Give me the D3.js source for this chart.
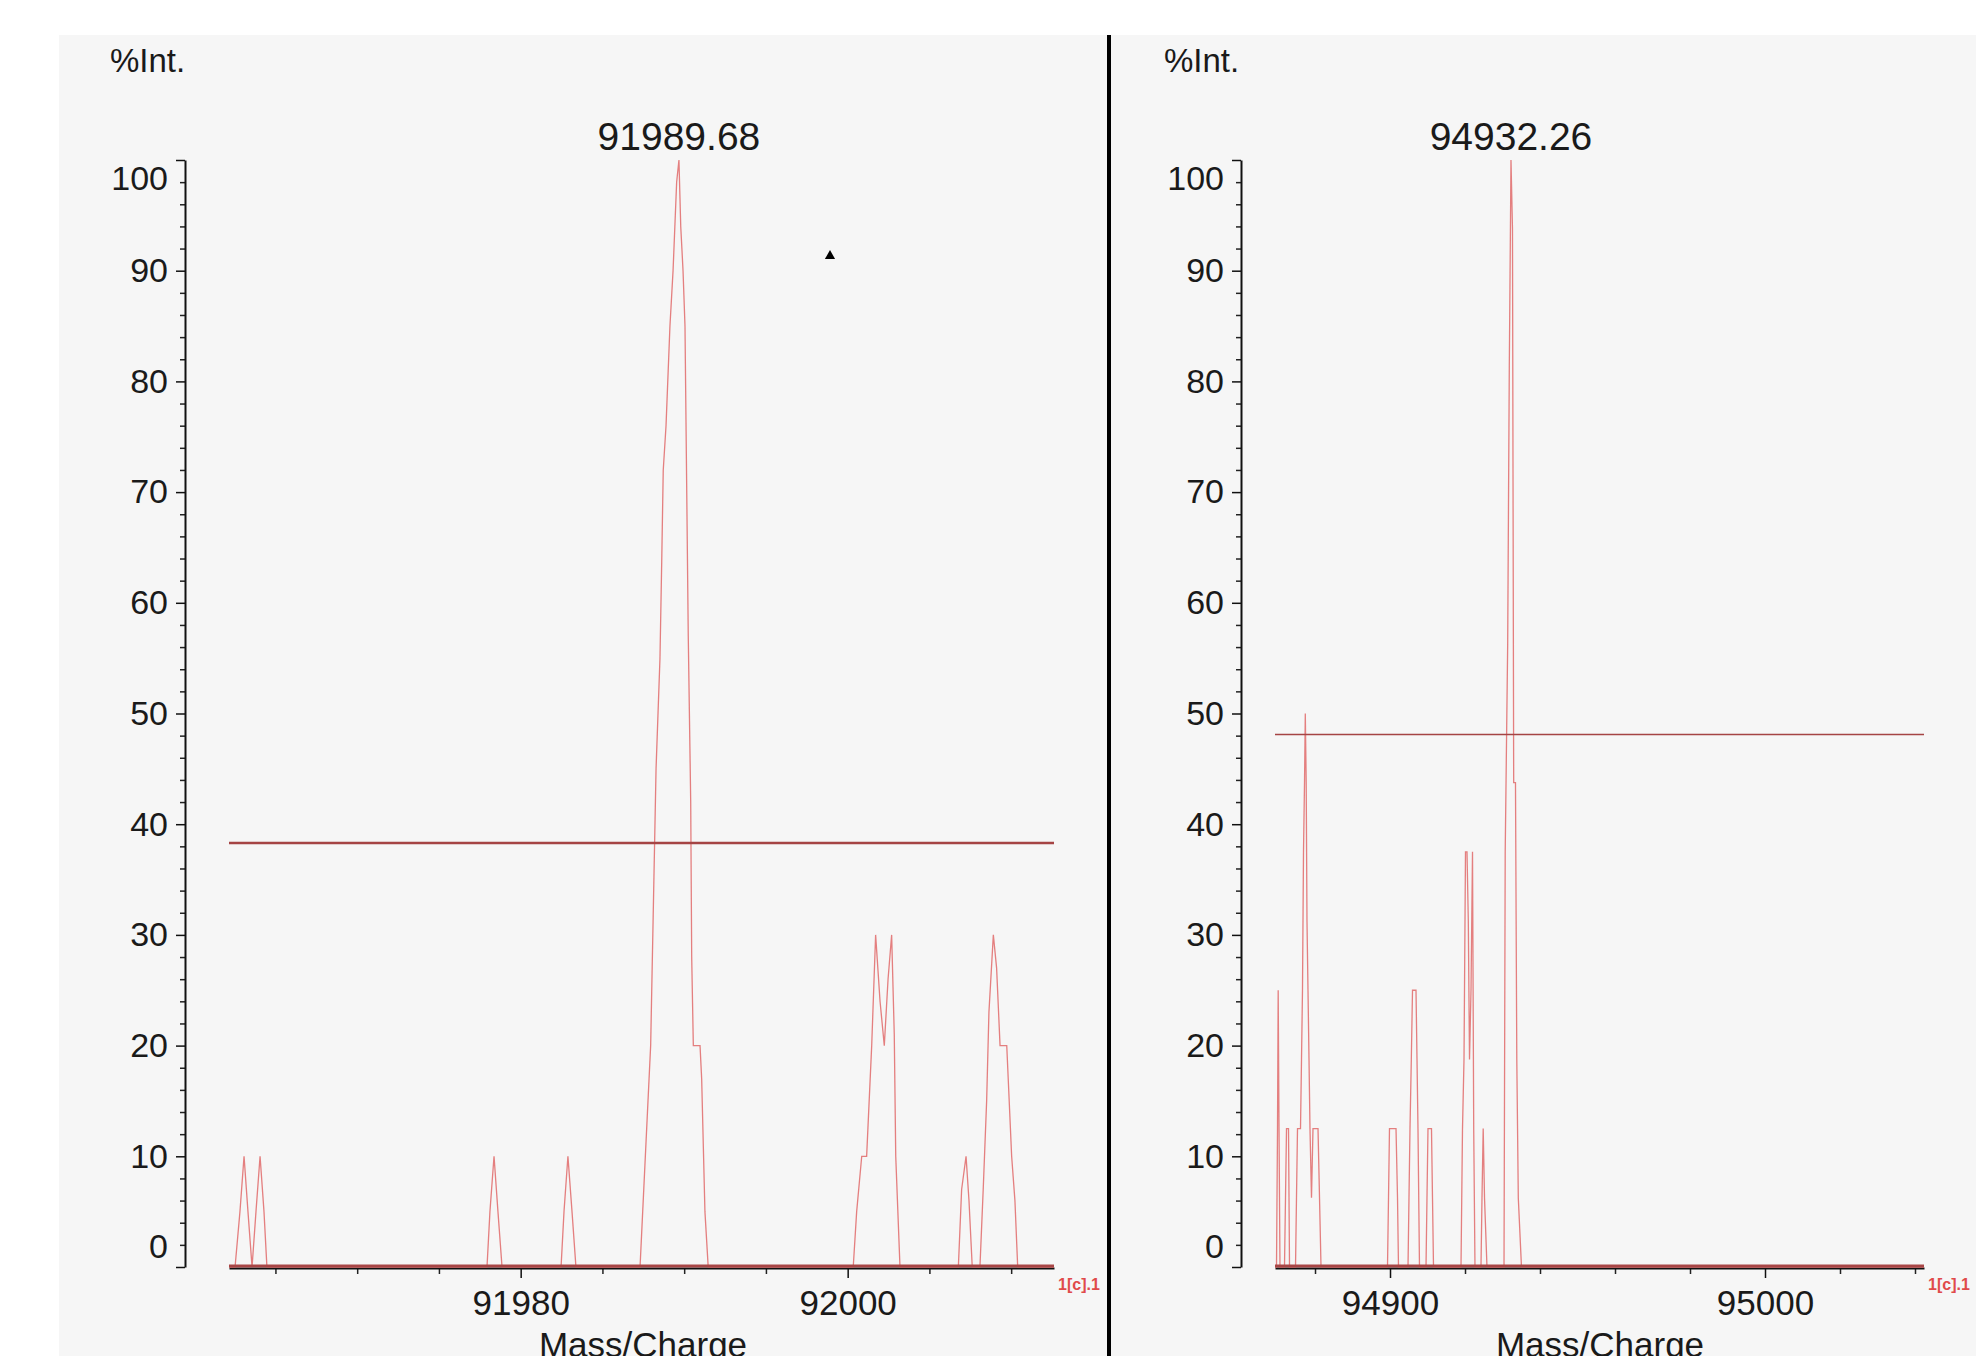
<!DOCTYPE html>
<html>
<head>
<meta charset="utf-8">
<script src="https://cdn.jsdelivr.net/npm/d3@7"></script>
<style>
  body { margin: 0; background: #fff; }
  text { font-family: "Liberation Sans", Arial, sans-serif; }
</style>
</head>
<body>
<div id="chart"></div>
<script>
// ---- data ----
var leftMass = [91962.16, 91962.53, 91962.83, 91963.08, 91963.32, 91963.57, 91963.81, 91964.06, 91964.30, 91964.48,
  91977.94, 91978.12, 91978.37, 91978.61, 91978.86,
  91982.47, 91982.65, 91982.89, 91983.14, 91983.38,
  91987.30, 91987.95, 91988.28, 91988.52, 91988.63, 91988.72, 91988.89, 91989.13, 91989.32, 91989.54, 91989.68,
  91989.79, 91989.93, 91990.05, 91990.25, 91990.40, 91990.46, 91990.56, 91990.97, 91991.07, 91991.27, 91991.47,
  92000.34, 92000.55, 92000.86, 92001.16, 92001.47, 92001.71, 92001.98, 92002.24, 92002.47, 92002.69, 92002.85, 92002.94, 92003.20,
  92006.77, 92006.97, 92007.24, 92007.42, 92007.62, 92008.09, 92008.29, 92008.50, 92008.64, 92008.91, 92009.11,
  92009.32, 92009.73, 92009.82, 92010.03, 92010.23, 92010.40, 92012.62];
var leftInt = [0, 0, 5, 10, 5, 0, 5, 10, 5, 0,
  0, 5, 10, 5, 0,
  0, 5, 10, 5, 0,
  0, 20, 45, 55, 64, 72, 76, 85, 90, 98, 100,
  94, 90, 85, 57, 42, 28, 20, 20, 17, 5, 0,
  0, 5, 10, 10, 20, 30, 24, 20, 26, 30, 21, 10, 0,
  0, 7, 10, 6, 0, 0, 7, 15, 23, 30, 27,
  20, 20, 17, 10, 6, 0, 0];

var rightMass = [94869.33, 94869.73, 94870.00, 94870.18, 94870.40, 94870.66,
  94871.86, 94872.13, 94872.40, 94872.93, 94873.20,
  94874.80, 94875.06, 94875.33, 94876.13, 94876.40, 94876.66, 94876.93, 94877.20, 94877.41, 94877.65,
  94877.86, 94878.13, 94878.40, 94878.66, 94879.06, 94879.46, 94880.80, 94881.20, 94881.60,
  94899.33, 94899.60, 94899.86, 94901.60, 94902.00, 94902.26,
  94904.80, 94905.06, 94905.33, 94905.68, 94906.00, 94906.93, 94907.20, 94907.46, 94907.86,
  94909.60, 94909.86, 94910.13, 94911.06, 94911.33, 94911.60,
  94918.93, 94919.33, 94919.73, 94920.13, 94920.53, 94920.88, 94921.20, 94921.60, 94922.00, 94922.32, 94922.66,
  94924.26, 94924.53, 94924.85, 94925.20, 94925.86,
  94930.40, 94930.72, 94931.38, 94931.81, 94932.26, 94932.66, 94932.98, 94933.46, 94933.81, 94934.21, 94935.06,
  95042.40];
var rightInt = [0, 0, 12.5, 25, 12.5, 0,
  0, 6.25, 12.5, 12.5, 0,
  0, 6.25, 12.5, 12.5, 18.75, 25, 37.5, 43.75, 50, 43.75,
  31.25, 25, 18.75, 12.5, 6.25, 12.5, 12.5, 6.25, 0,
  0, 6.25, 12.5, 12.5, 6.25, 0,
  0, 6.25, 12.5, 18.75, 25, 25, 18.75, 12.5, 0,
  0, 6.25, 12.5, 12.5, 6.25, 0,
  0, 12.5, 18.75, 37.5, 37.5, 31.25, 18.75, 25, 37.5, 12.5, 0,
  0, 6.25, 12.5, 6.25, 0,
  0, 37.5, 56.25, 81.25, 100, 93.75, 43.75, 43.75, 18.75, 6.25, 0,
  0];

var leftDomain = [91962.16, 92012.62];
var rightDomain = [94869.33, 95042.40];
var leftXTicks = [91980, 92000];
var rightXTicks = [94900, 95000];
var yTicks = [0, 10, 20, 30, 40, 50, 60, 70, 80, 90, 100];
var peakMass = [91989.68, 94932.26];
var peakLabels = ["91989.68", "94932.26"];
var cursorLevels = [38.3, 48.1];

// ---- page ----
var W = 1976, H = 1356;
var svg = d3.select("#chart")
  .append("svg")
    .attr("width", W)
    .attr("height", H);

// grey panel backgrounds
svg.append("rect").attr("x", 59).attr("y", 35).attr("width", 1050).attr("height", H - 35).attr("fill", "#f6f6f6");
svg.append("rect").attr("x", 1109).attr("y", 35).attr("width", W - 1109).attr("height", H - 35).attr("fill", "#f6f6f6");

var y = d3.scaleLinear().domain([0, 100]).range([1267, 160]);

var panels = [
  {mass: leftMass, inten: leftInt, domain: leftDomain, ticks: leftXTicks, minor: 5,
   axisX: 185, x0: 229, x1: 1054, intX: 110, peak: peakMass[0], label: peakLabels[0],
   cursor: cursorLevels[0], cursorW: 2.6, center: 643},
  {mass: rightMass, inten: rightInt, domain: rightDomain, ticks: rightXTicks, minor: 20,
   axisX: 1241, x0: 1275, x1: 1924, intX: 1164, peak: peakMass[1], label: peakLabels[1],
   cursor: cursorLevels[1], cursorW: 1.6, center: 1600}
];

panels.forEach(function(p) {
  var x = d3.scaleLinear().domain(p.domain).range([p.x0, p.x1]);

  // minor y ticks
  var yMinor = d3.range(0, 101, 2).filter(function(v) { return v % 10 !== 0; });
  svg.append("g")
    .attr("transform", "translate(" + p.axisX + ",0)")
    .call(d3.axisLeft(y).tickValues(yMinor).tickSize(5).tickFormat(""))
    .call(function(g) { g.select(".domain").remove(); })
    .selectAll("line").attr("stroke", "#222").attr("stroke-width", 1.5);

  // major y axis
  var ya = svg.append("g")
    .attr("transform", "translate(" + p.axisX + ",0)")
    .call(d3.axisLeft(y).tickValues(yTicks).tickSize(9).tickSizeOuter(0).tickPadding(8));
  ya.select(".domain").attr("stroke", "#111").attr("stroke-width", 2);
  ya.selectAll("line").attr("stroke", "#111").attr("stroke-width", 1.5);
  ya.selectAll("text")
    .style("font-size", "34px")
    .attr("fill", "#1a1a1a")
    .attr("transform", function(d) { return d === 0 ? "translate(0,-20)" : d === 100 ? "translate(0,19)" : null; });

  // minor x ticks
  var xMinor = d3.range(Math.ceil(p.domain[0] / p.minor) * p.minor, p.domain[1], p.minor)
    .filter(function(v) { return p.ticks.indexOf(v) < 0; });
  svg.append("g")
    .attr("transform", "translate(0,1268)")
    .call(d3.axisBottom(x).tickValues(xMinor).tickSize(6).tickFormat(""))
    .call(function(g) { g.select(".domain").remove(); })
    .selectAll("line").attr("stroke", "#222").attr("stroke-width", 1.5);

  // major x axis
  var xa = svg.append("g")
    .attr("transform", "translate(0,1268)")
    .call(d3.axisBottom(x).tickValues(p.ticks).tickSize(10).tickSizeOuter(0).tickPadding(12).tickFormat(d3.format("d")));
  xa.select(".domain").attr("stroke", "#111").attr("stroke-width", 2);
  xa.selectAll("line").attr("stroke", "#111").attr("stroke-width", 1.5);
  xa.selectAll("text").style("font-size", "35px").attr("fill", "#1a1a1a");

  // spectrum trace
  var pts = p.mass.map(function(m, i) { return [m, p.inten[i]]; });
  svg.append("path")
    .datum(pts)
    .attr("fill", "none")
    .attr("stroke", "#e06a6a")
    .attr("stroke-width", 1.3)
    .attr("stroke-opacity", 0.85)
    .attr("d", d3.line()
      .x(function(d) { return x(d[0]); })
      .y(function(d) { return y(d[1]); }));

  // zero level line
  svg.append("line")
    .attr("x1", p.x0).attr("x2", p.x1)
    .attr("y1", y(0) - 1).attr("y2", y(0) - 1)
    .attr("stroke", "#a84646")
    .attr("stroke-width", 3);

  // horizontal cursor
  svg.append("line")
    .attr("x1", p.x0).attr("x2", p.x1)
    .attr("y1", y(p.cursor)).attr("y2", y(p.cursor))
    .attr("stroke", "#a54444")
    .attr("stroke-width", p.cursorW);

  // peak label
  svg.append("text")
    .attr("x", x(p.peak))
    .attr("y", 150)
    .style("text-anchor", "middle")
    .style("font-size", "39px")
    .attr("fill", "#1a1a1a")
    .text(p.label);

  // axis titles
  svg.append("text")
    .attr("x", p.intX).attr("y", 72)
    .style("font-size", "33px")
    .attr("fill", "#1a1a1a")
    .text("%Int.");

  svg.append("text")
    .attr("x", p.center).attr("y", 1357)
    .style("text-anchor", "middle")
    .style("font-size", "35px")
    .attr("fill", "#1a1a1a")
    .text("Mass/Charge");

  // trace id in red
  svg.append("text")
    .attr("x", p.x1 + 4).attr("y", 1290)
    .style("font-size", "16px")
    .style("font-weight", "bold")
    .attr("fill", "#e04a4a")
    .text("1[c].1");
});

// divider between the two panes
svg.append("line")
  .attr("x1", 1109).attr("x2", 1109)
  .attr("y1", 35).attr("y2", H)
  .attr("stroke", "#000")
  .attr("stroke-width", 4);

// little mouse marker
svg.append("path")
  .attr("d", d3.symbol(d3.symbolTriangle, 45)())
  .attr("transform", "translate(830,256)")
  .attr("fill", "#000");
</script>
</body>
</html>
